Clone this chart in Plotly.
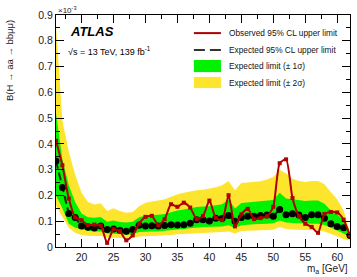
import plotly.graph_objects as go

mass = list(range(16, 63))

observed = [0.412, 0.317, 0.188, 0.115, 0.104, 0.085, 0.087, 0.082, 0.016, 0.069,
            0.061, 0.026, 0.045, 0.091, 0.117, 0.121, 0.084, 0.108, 0.166, 0.156,
            0.172, 0.153, 0.109, 0.120, 0.180, 0.113, 0.104, 0.201, 0.080, 0.127,
            0.148, 0.108, 0.112, 0.119, 0.156, 0.325, 0.340, 0.190, 0.120, 0.090,
            0.078, 0.055, 0.128, 0.136, 0.134, 0.106, 0.045]

expected = [0.334, 0.231, 0.130, 0.114, 0.081, 0.077, 0.074, 0.081, 0.068, 0.070,
            0.065, 0.061, 0.068, 0.084, 0.081, 0.082, 0.081, 0.083, 0.086, 0.085,
            0.086, 0.092, 0.106, 0.106, 0.101, 0.112, 0.112, 0.122, 0.100, 0.114,
            0.119, 0.119, 0.122, 0.124, 0.119, 0.145, 0.125, 0.129, 0.124, 0.114,
            0.125, 0.125, 0.112, 0.090, 0.080, 0.075, 0.045]

sig1_up = [0.520, 0.340, 0.240, 0.175, 0.130, 0.115, 0.113, 0.116, 0.098, 0.103,
           0.097, 0.095, 0.098, 0.115, 0.122, 0.123, 0.125, 0.128, 0.135, 0.142,
           0.145, 0.150, 0.155, 0.157, 0.158, 0.162, 0.166, 0.184, 0.149, 0.171,
           0.173, 0.175, 0.177, 0.180, 0.182, 0.210, 0.188, 0.185, 0.182, 0.178,
           0.180, 0.180, 0.168, 0.142, 0.127, 0.104, 0.045]

sig1_dn = [0.200, 0.150, 0.090, 0.075, 0.068, 0.063, 0.060, 0.060, 0.052, 0.052,
           0.050, 0.048, 0.050, 0.058, 0.058, 0.060, 0.060, 0.062, 0.065, 0.068,
           0.070, 0.072, 0.076, 0.078, 0.078, 0.080, 0.080, 0.084, 0.074, 0.084,
           0.086, 0.088, 0.090, 0.090, 0.092, 0.103, 0.095, 0.093, 0.092, 0.090,
           0.090, 0.090, 0.085, 0.075, 0.065, 0.052, 0.035]

sig2_up = [0.860, 0.490, 0.370, 0.280, 0.210, 0.175, 0.165, 0.170, 0.140, 0.150,
           0.140, 0.133, 0.136, 0.158, 0.172, 0.176, 0.180, 0.185, 0.195, 0.205,
           0.210, 0.215, 0.220, 0.222, 0.226, 0.232, 0.240, 0.256, 0.220, 0.248,
           0.250, 0.252, 0.255, 0.262, 0.272, 0.300, 0.285, 0.265, 0.256, 0.252,
           0.256, 0.256, 0.243, 0.213, 0.184, 0.142, 0.058]

sig2_dn = [0.160, 0.120, 0.075, 0.055, 0.047, 0.044, 0.043, 0.043, 0.037, 0.037,
           0.035, 0.034, 0.036, 0.041, 0.042, 0.043, 0.043, 0.045, 0.047, 0.049,
           0.050, 0.052, 0.054, 0.055, 0.055, 0.057, 0.058, 0.060, 0.052, 0.062,
           0.063, 0.064, 0.065, 0.066, 0.067, 0.078, 0.070, 0.068, 0.067, 0.065,
           0.065, 0.065, 0.060, 0.052, 0.042, 0.030, 0.025]

x_ticks = [20, 25, 30, 35, 40, 45, 50, 55, 60]
y_ticks = [0, 0.1, 0.2, 0.3, 0.4, 0.5, 0.6, 0.7, 0.8, 0.9]
y_tick_text = ["0", "0.1", "0.2", "0.3", "0.4", "0.5", "0.6", "0.7", "0.8", "0.9"]

legend_labels = ["Observed 95% CL upper limit", "Expected 95% CL upper limit",
                 "Expected limit (± 1σ)", "Expected limit (± 2σ)"]

YELLOW = "#fde52e"
GREEN = "#00f200"
RED = "#b00000"
BLACK = "#000000"
FONT = "Liberation Sans, Arial, Helvetica, sans-serif"

fig = go.Figure()

fig.add_trace(go.Scatter(
    x=mass + mass[::-1], y=sig2_up + sig2_dn[::-1], fill="toself",
    fillcolor=YELLOW, line=dict(width=0), mode="lines", showlegend=False,
    hoverinfo="skip"))
fig.add_trace(go.Scatter(
    x=mass + mass[::-1], y=sig1_up + sig1_dn[::-1], fill="toself",
    fillcolor=GREEN, line=dict(width=0), mode="lines", showlegend=False,
    hoverinfo="skip"))
fig.add_trace(go.Scatter(
    x=mass, y=expected, mode="lines+markers",
    line=dict(color="#222222", width=2, dash="8px,4px"),
    marker=dict(color=BLACK, size=7), showlegend=False))
fig.add_trace(go.Scatter(
    x=mass, y=observed, mode="lines+markers",
    line=dict(color=RED, width=2, shape="spline", smoothing=0.6),
    marker=dict(color=RED, size=4, symbol="square"), showlegend=False))

axis_common = dict(
    showline=True, linecolor="black", linewidth=1, mirror="allticks",
    ticks="inside", tickcolor="black", showgrid=False, zeroline=False,
    tickfont=dict(family=FONT, size=10.5, color="#222222"),
)

fig.update_xaxes(
    range=[16, 62], tickvals=x_ticks, ticklen=8,
    minor=dict(dtick=2.5, tick0=0, ticklen=4, ticks="inside", tickcolor="black"),
    **axis_common)
fig.update_yaxes(
    range=[0, 0.9], tickvals=y_ticks, ticktext=y_tick_text, ticklen=8,
    minor=dict(dtick=0.05, tick0=0, ticklen=4, ticks="inside", tickcolor="black"),
    **axis_common)

# Legend (drawn in paper coordinates)
L = dict(xref="paper", yref="paper")
fig.add_shape(type="line", x0=0.469, x1=0.561, y0=0.922, y1=0.922,
              line=dict(color=RED, width=2), **L)
fig.add_shape(type="line", x0=0.469, x1=0.561, y0=0.849, y1=0.849,
              line=dict(color="#333333", width=2, dash="11px,5px"), **L)
fig.add_shape(type="rect", x0=0.469, x1=0.561, y0=0.754, y1=0.806,
              line=dict(width=0), fillcolor=GREEN, **L)
fig.add_shape(type="rect", x0=0.469, x1=0.561, y0=0.685, y1=0.733,
              line=dict(width=0), fillcolor=YELLOW, **L)
for lab, yy in zip(legend_labels, [0.922, 0.849, 0.780, 0.709]):
    fig.add_annotation(text=lab, x=0.582, y=yy, xanchor="left", yanchor="middle",
                       showarrow=False, font=dict(family=FONT, size=8.3, color="#111111"), **L)

fig.add_annotation(text="<b><i>ATLAS</i></b>", x=0.040, y=0.93, xanchor="left",
                   yanchor="middle", showarrow=False,
                   font=dict(family=FONT, size=13, color="black"), **L)
fig.add_annotation(text="√s = 13 TeV, 139 fb<sup>-1</sup>", x=0.033, y=0.845,
                   xanchor="left", yanchor="middle", showarrow=False,
                   font=dict(family=FONT, size=9, color="black"), **L)
fig.add_annotation(text="×10<sup>-3</sup>", x=0.0, y=1.0, xanchor="left",
                   yanchor="bottom", showarrow=False, yshift=-2,
                   font=dict(family=FONT, size=8, color="#222222"), **L)
fig.add_annotation(text="B(H → aa → bbμμ)", x=-0.16, y=0.806, xanchor="center",
                   yanchor="middle", textangle=-90, showarrow=False,
                   font=dict(family=FONT, size=9.5, color="#222222"), **L)
fig.add_annotation(text="m<sub>a</sub> [GeV]", x=1.0, y=-0.06, xanchor="right",
                   yanchor="top", showarrow=False,
                   font=dict(family=FONT, size=10, color="#222222"), **L)

fig.update_layout(
    width=357, height=277,
    margin=dict(l=56, r=7, t=15, b=30),
    paper_bgcolor="white", plot_bgcolor="white",
    showlegend=False,
    font=dict(family=FONT),
)

fig.write_html("out.html", config={"displayModeBar": False},
               post_script="document.body.style.margin='0px';")
